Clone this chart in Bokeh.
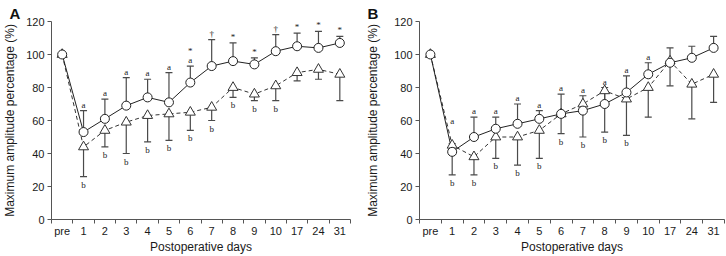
from bokeh.plotting import figure
from bokeh.models import (Range1d, FixedTicker, ColumnDataSource, Whisker, TeeHead,
                          LabelSet)
from bokeh.layouts import row
from bokeh.embed import file_html
from bokeh.resources import INLINE

days = ["pre", "1", "2", "3", "4", "5", "6", "7", "8", "9", "10", "17", "24", "31"]
yticks = [0, 20, 40, 60, 80, 100, 120]

# Panel A
a_circle = [100, 53, 61, 69, 74, 71, 83, 93, 96, 94, 102, 105, 104, 107]
a_circle_upper = [None, 66, 73, 86, 85, 89, 93, 109, 107, 98, 112, 113, 114, 111]
a_tri = [100, 44, 54, 59, 63, 64, 65, 68, 80, 76, 81, 89, 91, 88]
a_tri_lower = [None, 26, 44, 40, 47, 48, 54, 60, 74, 72, 72, 84, 85, 72]
a_sig_up = ["", "a", "a", "a", "a", "a", "a", "\u2020", "*", "*", "\u2020", "*", "*", "*"]
a_sig_up2 = ["", "", "", "", "", "", "*", "", "", "", "", "", "", ""]
a_sig_low = ["", "b", "b", "b", "b", "b", "b", "b", "b", "b", "b", "", "", ""]
a_sig_up_y = a_circle_upper

# Panel B
b_circle = [100, 41, 50, 55, 58, 61, 64, 66, 70, 77, 88, 95, 98, 104]
b_circle_upper = [None, 46, 62, 62, 70, 66, 76, 75, 80, 87, 95, 104, 105, 111]
b_tri = [100, 45, 38, 50, 50, 54, 64, 70, 78, 73, 80, 96, 82, 88]
b_tri_lower = [None, 27, 27, 37, 33, 37, 52, 50, 53, 51, 62, 81, 61, 71]
b_sig_up = ["", "a", "a", "a", "a", "a", "a", "a", "a", "a", "a", "", "", ""]
b_sig_up2 = ["", "", "", "", "", "", "", "", "", "", "", "", "", ""]
b_sig_low = ["", "b", "b", "b", "b", "b", "b", "b", "b", "b", "", "", "", ""]
b_sig_up_y = [None, 56, 62, 62, 70, 66, 76, 75, 80, 87, 95, 104, 105, 111]

FONT = "Liberation Sans"
AXIS_COL = "#555555"
BAR_COL = "#4a4a4a"
TEXT_COL = "#1a1a1a"


def make_panel(letter, circle, cup, tri, tlow, up, up2, low, up_lbl_y,
               border_left, border_right, ylabel_standoff):
    xs = list(range(len(days)))
    p = figure(width=363, height=256, title=letter,
               x_range=Range1d(-0.5, len(days) - 0.5), y_range=Range1d(0, 120),
               output_backend="svg", toolbar_location=None,
               min_border_left=border_left, min_border_right=border_right,
               min_border_top=21, min_border_bottom=37)
    p.outline_line_color = None
    p.xgrid.visible = False
    p.ygrid.visible = False
    p.background_fill_color = "white"
    p.border_fill_color = "white"

    p.title.align = "left"
    p.title.offset = -(border_left - 1)
    p.title.text_font = FONT
    p.title.text_font_size = "15px"
    p.title.text_font_style = "bold"
    p.title.text_color = "#111111"
    p.title.standoff = 0

    # x axis: labels at category centres, ticks at boundaries
    xa = p.xaxis[0]
    xa.ticker = FixedTicker(ticks=xs, minor_ticks=[i - 0.5 for i in range(len(days) + 1)])
    xa.major_label_overrides = {i: d for i, d in enumerate(days)}
    xa.major_tick_out = 0
    xa.major_tick_in = 0
    xa.minor_tick_out = 4
    xa.minor_tick_in = 0
    xa.minor_tick_line_color = AXIS_COL
    xa.axis_line_color = AXIS_COL
    xa.major_label_text_font = FONT
    xa.major_label_text_font_size = "11px"
    xa.major_label_text_color = TEXT_COL
    xa.major_label_standoff = 1
    xa.axis_label = "Postoperative days"
    xa.axis_label_text_font = FONT
    xa.axis_label_text_font_size = "12px"
    xa.axis_label_text_font_style = "normal"
    xa.axis_label_text_color = TEXT_COL
    xa.axis_label_standoff = 0

    ya = p.yaxis[0]
    ya.ticker = FixedTicker(ticks=yticks, minor_ticks=[])
    ya.major_tick_out = 4
    ya.major_tick_in = 0
    ya.major_tick_line_color = AXIS_COL
    ya.axis_line_color = AXIS_COL
    ya.major_label_text_font = FONT
    ya.major_label_text_font_size = "11px"
    ya.major_label_text_color = TEXT_COL
    ya.major_label_standoff = 3
    ya.axis_label = "Maximum amplitude percentage (%)"
    ya.axis_label_text_font = FONT
    ya.axis_label_text_font_size = "12px"
    ya.axis_label_text_font_style = "normal"
    ya.axis_label_text_color = TEXT_COL
    ya.axis_label_standoff = ylabel_standoff

    # error bars
    idx_c = [i for i, v in enumerate(cup) if v is not None]
    src_cu = ColumnDataSource(dict(x=idx_c, lower=[circle[i] for i in idx_c],
                                   upper=[cup[i] for i in idx_c]))
    w1 = Whisker(base="x", lower="lower", upper="upper", source=src_cu, dimension="height",
                 line_color=BAR_COL, line_width=1.2,
                 upper_head=TeeHead(size=7, line_color=BAR_COL, line_width=1.2),
                 lower_head=None, level="underlay")
    p.add_layout(w1)
    idx_t = [i for i, v in enumerate(tlow) if v is not None]
    src_tl = ColumnDataSource(dict(x=idx_t, lower=[tlow[i] for i in idx_t],
                                   upper=[tri[i] for i in idx_t]))
    w2 = Whisker(base="x", lower="lower", upper="upper", source=src_tl, dimension="height",
                 line_color=BAR_COL, line_width=1.2,
                 lower_head=TeeHead(size=7, line_color=BAR_COL, line_width=1.2),
                 upper_head=None, level="underlay")
    p.add_layout(w2)

    # series
    p.line(xs, tri, line_color="#333333", line_width=1, line_dash="4 3")
    p.line(xs, circle, line_color="#222222", line_width=1)
    p.scatter(xs, tri, marker="triangle", size=10, fill_color="white",
              line_color="#333333", line_width=1)
    p.scatter(xs, circle, marker="circle", size=9, fill_color="white",
              line_color="#222222", line_width=1)

    # significance labels
    up_y = [up_lbl_y[i] if up_lbl_y[i] is not None else circle[i] for i in xs]
    low_y = [tlow[i] if tlow[i] is not None else tri[i] for i in xs]
    s_up = ColumnDataSource(dict(x=xs, y=up_y, t=up))
    s_up2 = ColumnDataSource(dict(x=xs, y=up_y, t=up2))
    s_low = ColumnDataSource(dict(x=xs, y=low_y, t=low))
    p.add_layout(LabelSet(x="x", y="y", text="t", source=s_up, text_align="center",
                          text_baseline="alphabetic", y_offset=3, text_font=FONT,
                          text_font_size="9px", text_color=TEXT_COL))
    p.add_layout(LabelSet(x="x", y="y", text="t", source=s_up2, text_align="center",
                          text_baseline="alphabetic", y_offset=12, text_font=FONT,
                          text_font_size="9px", text_color=TEXT_COL))
    p.add_layout(LabelSet(x="x", y="y", text="t", source=s_low, text_align="center",
                          text_baseline="top", y_offset=-3, text_font=FONT,
                          text_font_size="9px", text_color=TEXT_COL))
    return p


pa = make_panel("A", a_circle, a_circle_upper, a_tri, a_tri_lower,
                a_sig_up, a_sig_up2, a_sig_low, a_sig_up_y, 43, 13, 6)
pb = make_panel("B", b_circle, b_circle_upper, b_tri, b_tri_lower,
                b_sig_up, b_sig_up2, b_sig_low, b_sig_up_y, 53, 2, 11)

layout = row(pa, pb)
open("out.html", "w").write(file_html(layout, INLINE))
